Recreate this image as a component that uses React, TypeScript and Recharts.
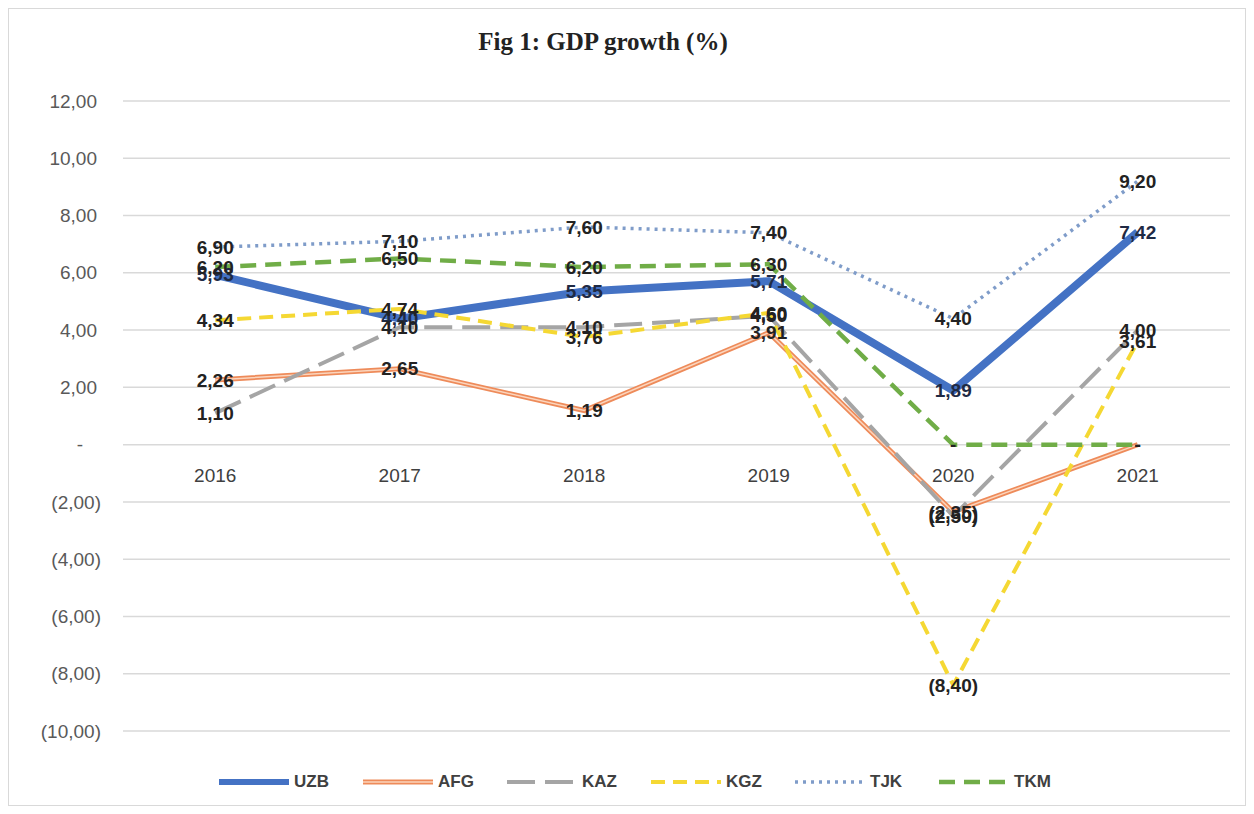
import React from "react";
import { LineChart, Line, XAxis, YAxis, CartesianGrid, LabelList } from "recharts";

const years = ["2016", "2017", "2018", "2019", "2020", "2021"];
const uzb = [5.93, 4.4, 5.35, 5.71, 1.89, 7.42];
const afg = [2.26, 2.65, 1.19, 3.91, -2.35, 0];
const kaz = [1.1, 4.1, 4.1, 4.5, -2.5, 4.0];
const kgz = [4.34, 4.74, 3.76, 4.6, -8.4, 3.61];
const tjk = [6.9, 7.1, 7.6, 7.4, 4.4, 9.2];
const tkm = [6.2, 6.5, 6.2, 6.3, 0, 0];
const yTicks = [-10, -8, -6, -4, -2, 0, 2, 4, 6, 8, 10, 12];

const data = years.map((y, i) => ({
  year: y,
  UZB: uzb[i],
  AFG: afg[i],
  KAZ: kaz[i],
  KGZ: kgz[i],
  TJK: tjk[i],
  TKM: tkm[i],
}));

const W = 1254;
const H = 814;
const M_TOP = 101;
const M_RIGHT = 24;
const M_BOTTOM = 53;
const X_AXIS_H = 30;
const Y_AXIS_W = 123;
const Y_MIN = -10;
const Y_MAX = 12;
const PLOT_H = H - M_TOP - M_BOTTOM - X_AXIS_H;
const PLOT_W = W - Y_AXIS_W - M_RIGHT;
const HALF_BAND = PLOT_W / years.length / 2;
const ZERO_Y = M_TOP + (PLOT_H * Y_MAX) / (Y_MAX - Y_MIN);

const fmt = (v: number) => {
  if (v === 0) return "-";
  const s = Math.abs(v).toFixed(2).replace(".", ",");
  return v < 0 ? `(${s})` : s;
};

const sans = "'Liberation Sans', Arial, sans-serif";

const YTick = (props: any) => {
  const { x, y, payload } = props;
  const v = payload.value;
  return (
    <text
      x={v === 0 ? x - 14 : v < 0 ? x + 4 : x}
      y={y}
      dy="0.35em"
      textAnchor="end"
      fill="#595959"
      fontSize={19}
      fontFamily={sans}
    >
      {fmt(v)}
    </text>
  );
};

const XTick = (props: any) => {
  const { x, payload } = props;
  return (
    <text
      x={x}
      y={ZERO_Y + 31}
      dy="0.35em"
      textAnchor="middle"
      fill="#404040"
      fontSize={19}
      fontFamily={sans}
    >
      {payload.value}
    </text>
  );
};

const makeLabel = (color: string) => (props: any) => {
  const { x, y, value } = props;
  return (
    <text
      x={x}
      y={y}
      dy="0.35em"
      textAnchor="middle"
      fill={color}
      fontSize={19}
      fontWeight="bold"
      fontFamily={sans}
    >
      {fmt(value)}
    </text>
  );
};

const series = [
  { key: "UZB", color: "#4472C4", width: 8, dash: undefined as string | undefined },
  { key: "AFG", color: "#EE8B5A", width: 5, dash: undefined },
  { key: "KAZ", color: "#A5A5A5", width: 4, dash: "28 10" },
  { key: "KGZ", color: "#F5D833", width: 4, dash: "14 8" },
  { key: "TJK", color: "#7F9CC9", width: 3.5, dash: "3 5" },
  { key: "TKM", color: "#70AD47", width: 4.5, dash: "16 9" },
];

const Legend = () => (
  <div
    style={{
      position: "absolute",
      left: 217,
      top: 770,
      display: "flex",
      fontFamily: sans,
      fontWeight: "bold",
      fontSize: 17,
      color: "#404040",
    }}
  >
    {series.map((s) => (
      <div key={s.key} style={{ width: 144, display: "flex", alignItems: "center" }}>
        <svg width={74} height={24}>
          <line
            x1={2}
            y1={12}
            x2={72}
            y2={12}
            stroke={s.color}
            strokeWidth={s.key === "UZB" ? 6 : s.width}
            strokeDasharray={s.dash}
          />
          {s.key === "AFG" && (
            <line x1={2} y1={12} x2={72} y2={12} stroke="#FBD5BD" strokeWidth={1.5} />
          )}
        </svg>
        <span style={{ marginLeft: 3 }}>{s.key}</span>
      </div>
    ))}
  </div>
);

export default function App() {
  return (
    <div
      style={{
        position: "absolute",
        left: 0,
        top: 0,
        width: W,
        height: H,
        background: "#fff",
        overflow: "hidden",
      }}
    >
      <div
        style={{
          position: "absolute",
          left: 8,
          top: 8,
          width: 1238,
          height: 798,
          border: "1px solid #D9D9D9",
          boxSizing: "border-box",
        }}
      />
      <div
        style={{
          position: "absolute",
          left: 0,
          width: 1206,
          top: 28,
          textAlign: "center",
          fontFamily: "'Liberation Serif', 'Times New Roman', serif",
          fontWeight: "bold",
          fontSize: 25,
          color: "#222",
        }}
      >
        Fig 1: GDP growth (%)
      </div>
      <div style={{ position: "absolute", left: 0, top: 0 }}>
        <LineChart
          width={W}
          height={H}
          data={data}
          margin={{ top: M_TOP, right: M_RIGHT, bottom: M_BOTTOM, left: 0 }}
        >
          <CartesianGrid vertical={false} stroke="#D9D9D9" strokeWidth={1.5} />
          <XAxis
            dataKey="year"
            height={X_AXIS_H}
            axisLine={false}
            tickLine={false}
            tick={<XTick />}
            interval={0}
            padding={{ left: HALF_BAND, right: HALF_BAND }}
          />
          <YAxis
            width={Y_AXIS_W}
            domain={[Y_MIN, Y_MAX]}
            ticks={yTicks}
            axisLine={false}
            tickLine={false}
            tickSize={0}
            tickMargin={26}
            tick={<YTick />}
            interval={0}
          />
          <Line
            dataKey="UZB"
            stroke="#4472C4"
            strokeWidth={8}
            dot={false}
            isAnimationActive={false}
            strokeLinejoin="round"
          />
          <Line
            dataKey="AFG"
            stroke="#EE8B5A"
            strokeWidth={5}
            dot={false}
            isAnimationActive={false}
          />
          <Line
            dataKey="AFG"
            stroke="#FBD5BD"
            strokeWidth={1.5}
            dot={false}
            isAnimationActive={false}
            legendType="none"
          />
          <Line
            dataKey="KAZ"
            stroke="#A5A5A5"
            strokeWidth={4}
            strokeDasharray="28 10"
            dot={false}
            isAnimationActive={false}
          />
          <Line
            dataKey="KGZ"
            stroke="#F5D833"
            strokeWidth={4}
            strokeDasharray="14 8"
            dot={false}
            isAnimationActive={false}
          />
          <Line
            dataKey="TJK"
            stroke="#7F9CC9"
            strokeWidth={3.5}
            strokeDasharray="3 5"
            dot={false}
            isAnimationActive={false}
          />
          <Line
            dataKey="TKM"
            stroke="#70AD47"
            strokeWidth={4.5}
            strokeDasharray="16 9"
            dot={false}
            isAnimationActive={false}
          />
          {series.map((s) => (
            <Line
              key={"lbl" + s.key}
              dataKey={s.key}
              stroke="none"
              dot={false}
              activeDot={false}
              isAnimationActive={false}
              legendType="none"
            >
              <LabelList dataKey={s.key} content={makeLabel(s.key === "UZB" ? "#1F2A44" : "#222")} />
            </Line>
          ))}
        </LineChart>
      </div>
      <Legend />
    </div>
  );
}
